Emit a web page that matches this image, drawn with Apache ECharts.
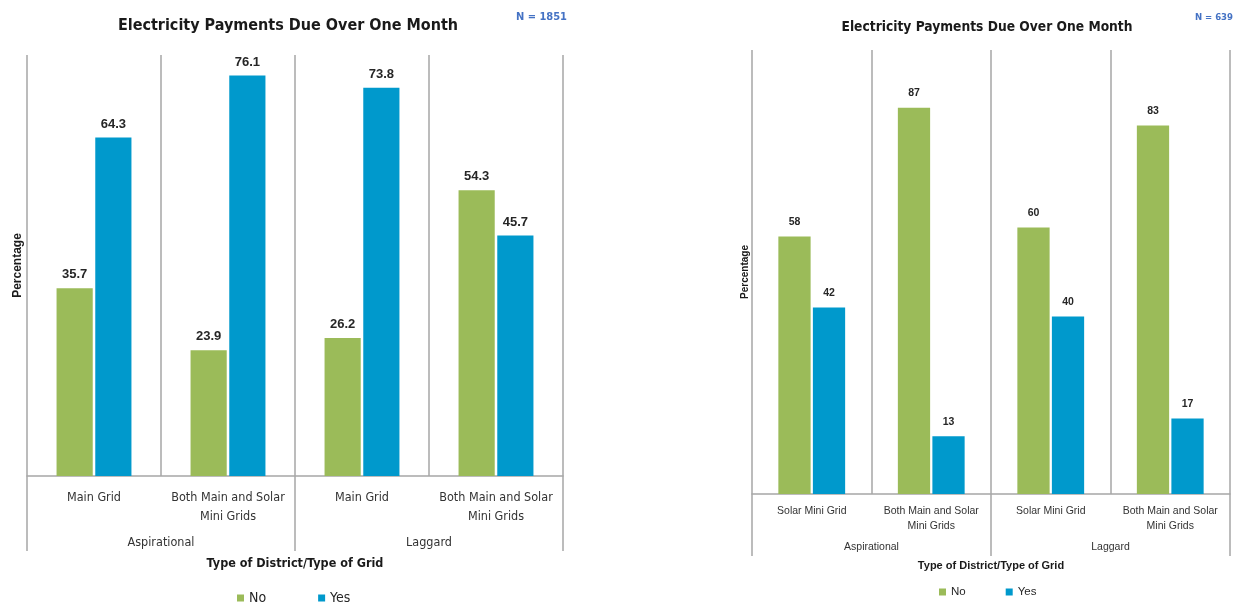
<!DOCTYPE html>
<html>
<head>
<meta charset="utf-8">
<script src="https://cdn.jsdelivr.net/npm/echarts@6/dist/echarts.min.js"></script>
<style>
  html, body { margin: 0; padding: 0; background: #fff; }
  #chart { width: 1234px; height: 602px; }
</style>
</head>
<body>
<div id="chart"></div>
<script>
// Share of households with electricity payments due for over one month
const chartTitle = 'Electricity Payments Due Over One Month';
const seriesNames = ['No', 'Yes'];
const districts = ['Aspirational', 'Laggard'];

// Left panel: all households on main grid / mixed grids (N = 1851)
const leftN = 'N = 1851';
const leftGrids = ['Main Grid', 'Both Main and Solar\nMini Grids', 'Main Grid', 'Both Main and Solar\nMini Grids'];
const leftNo = [35.7, 23.9, 26.2, 54.3];
const leftYes = [64.3, 76.1, 73.8, 45.7];

// Right panel: households on solar mini grids (N = 639)
const rightN = 'N = 639';
const rightGrids = ['Solar Mini Grid', 'Both Main and Solar\nMini Grids', 'Solar Mini Grid', 'Both Main and Solar\nMini Grids'];
const rightNo = [58, 87, 60, 83];
const rightYes = [42, 13, 40, 17];

const GREEN = '#9BBB59';
const BLUE = '#0099CC';
const LINE = '#A6A6A6';
const NARROW = "'Liberation Sans Narrow', 'DejaVu Sans Condensed', 'Liberation Sans', sans-serif";
const SANS = "'Liberation Sans', Arial, sans-serif";

function barSeries(name, data, axisIdx, color, labelSize, labelDist, fmt) {
  return {
    name: name,
    type: 'bar',
    xAxisIndex: axisIdx,
    yAxisIndex: axisIdx / 2,
    data: data,
    barWidth: '27%',
    barGap: '7%',
    itemStyle: { color: color },
    label: {
      show: true,
      position: 'top',
      distance: labelDist,
      fontFamily: SANS,
      fontWeight: 'bold',
      fontSize: labelSize,
      color: '#262626',
      formatter: fmt
    }
  };
}

const chart = echarts.init(document.getElementById('chart'), null, { renderer: 'canvas' });

chart.setOption({
  backgroundColor: '#fff',
  animation: false,
  title: [
    { text: chartTitle, left: 283, top: 13, textAlign: 'center',
      textStyle: { fontFamily: NARROW, fontSize: 16, fontWeight: 'bold', color: '#1a1a1a' } },
    { text: leftN, left: 511, top: 7,
      textStyle: { fontFamily: NARROW, fontSize: 11, fontWeight: 'bold', color: '#4472C4' } },
    { text: rightN, right: 0, top: 13, padding: [0, 1, 0, 0],
      textStyle: { fontFamily: NARROW, fontSize: 9.5, fontWeight: 'bold', color: '#4472C4' } },
    { text: chartTitle, left: 982, top: 15, textAlign: 'center',
      textStyle: { fontFamily: NARROW, fontSize: 13.7, fontWeight: 'bold', color: '#1a1a1a' } }
  ],
  legend: [
    { data: seriesNames, left: 232, top: 586, itemWidth: 7, itemHeight: 7, itemGap: 52,
      icon: 'rect', textStyle: { fontFamily: NARROW, fontSize: 14, color: '#262626' } },
    { data: seriesNames, left: 934, top: 581, itemWidth: 7, itemHeight: 7, itemGap: 40,
      icon: 'rect', textStyle: { fontFamily: SANS, fontSize: 11.5, color: '#262626' } }
  ],
  grid: [
    { left: 27, top: 55, width: 536, height: 421 },
    { left: 752, top: 50, width: 478, height: 444 }
  ],
  xAxis: [
    { type: 'category', gridIndex: 0, data: leftGrids,
      axisLine: { show: true, lineStyle: { color: LINE, width: 1.5 } },
      axisTick: { show: false },
      splitLine: { show: true, lineStyle: { color: LINE, width: 1.5 } },
      axisLabel: { margin: 12, fontFamily: NARROW, fontSize: 12.5, color: '#333', lineHeight: 19, interval: 0 } },
    { type: 'category', gridIndex: 0, data: districts, position: 'bottom',
      axisLine: { show: false },
      axisTick: { show: true, length: 75, lineStyle: { color: LINE, width: 1.5 } },
      axisLabel: { margin: 60, fontFamily: NARROW, fontSize: 12.5, color: '#333' },
      name: 'Type of District/Type of Grid', nameLocation: 'middle', nameGap: 81,
      nameTextStyle: { fontFamily: NARROW, fontSize: 12.5, fontWeight: 'bold', color: '#1a1a1a' } },
    { type: 'category', gridIndex: 1, data: rightGrids,
      axisLine: { show: true, lineStyle: { color: LINE, width: 1.5 } },
      axisTick: { show: false },
      splitLine: { show: true, lineStyle: { color: LINE, width: 1.5 } },
      axisLabel: { margin: 10, fontFamily: SANS, fontSize: 10.5, color: '#333', lineHeight: 15, interval: 0 } },
    { type: 'category', gridIndex: 1, data: districts, position: 'bottom',
      axisLine: { show: false },
      axisTick: { show: true, length: 62, lineStyle: { color: LINE, width: 1.5 } },
      axisLabel: { margin: 48, fontFamily: SANS, fontSize: 10.5, color: '#333' },
      name: 'Type of District/Type of Grid', nameLocation: 'middle', nameGap: 66,
      nameTextStyle: { fontFamily: SANS, fontSize: 11, fontWeight: 'bold', color: '#1a1a1a' } }
  ],
  yAxis: [
    { type: 'value', gridIndex: 0, min: 0, max: 80,
      axisLine: { show: false }, axisTick: { show: false }, axisLabel: { show: false }, splitLine: { show: false },
      name: 'Percentage', nameLocation: 'middle', nameGap: 3, nameRotate: 90,
      nameTextStyle: { fontFamily: SANS, fontSize: 12, fontWeight: 'bold', color: '#1a1a1a' } },
    { type: 'value', gridIndex: 1, min: 0, max: 100,
      axisLine: { show: false }, axisTick: { show: false }, axisLabel: { show: false }, splitLine: { show: false },
      name: 'Percentage', nameLocation: 'middle', nameGap: 2, nameRotate: 90,
      nameTextStyle: { fontFamily: SANS, fontSize: 10, fontWeight: 'bold', color: '#1a1a1a' } }
  ],
  series: [
    barSeries('No', leftNo, 0, GREEN, 13, 7, p => p.value.toFixed(1)),
    barSeries('Yes', leftYes, 0, BLUE, 13, 7, p => p.value.toFixed(1)),
    barSeries('No', rightNo, 2, GREEN, 10.5, 9, p => String(p.value)),
    barSeries('Yes', rightYes, 2, BLUE, 10.5, 9, p => String(p.value))
  ]
});
</script>
</body>
</html>
